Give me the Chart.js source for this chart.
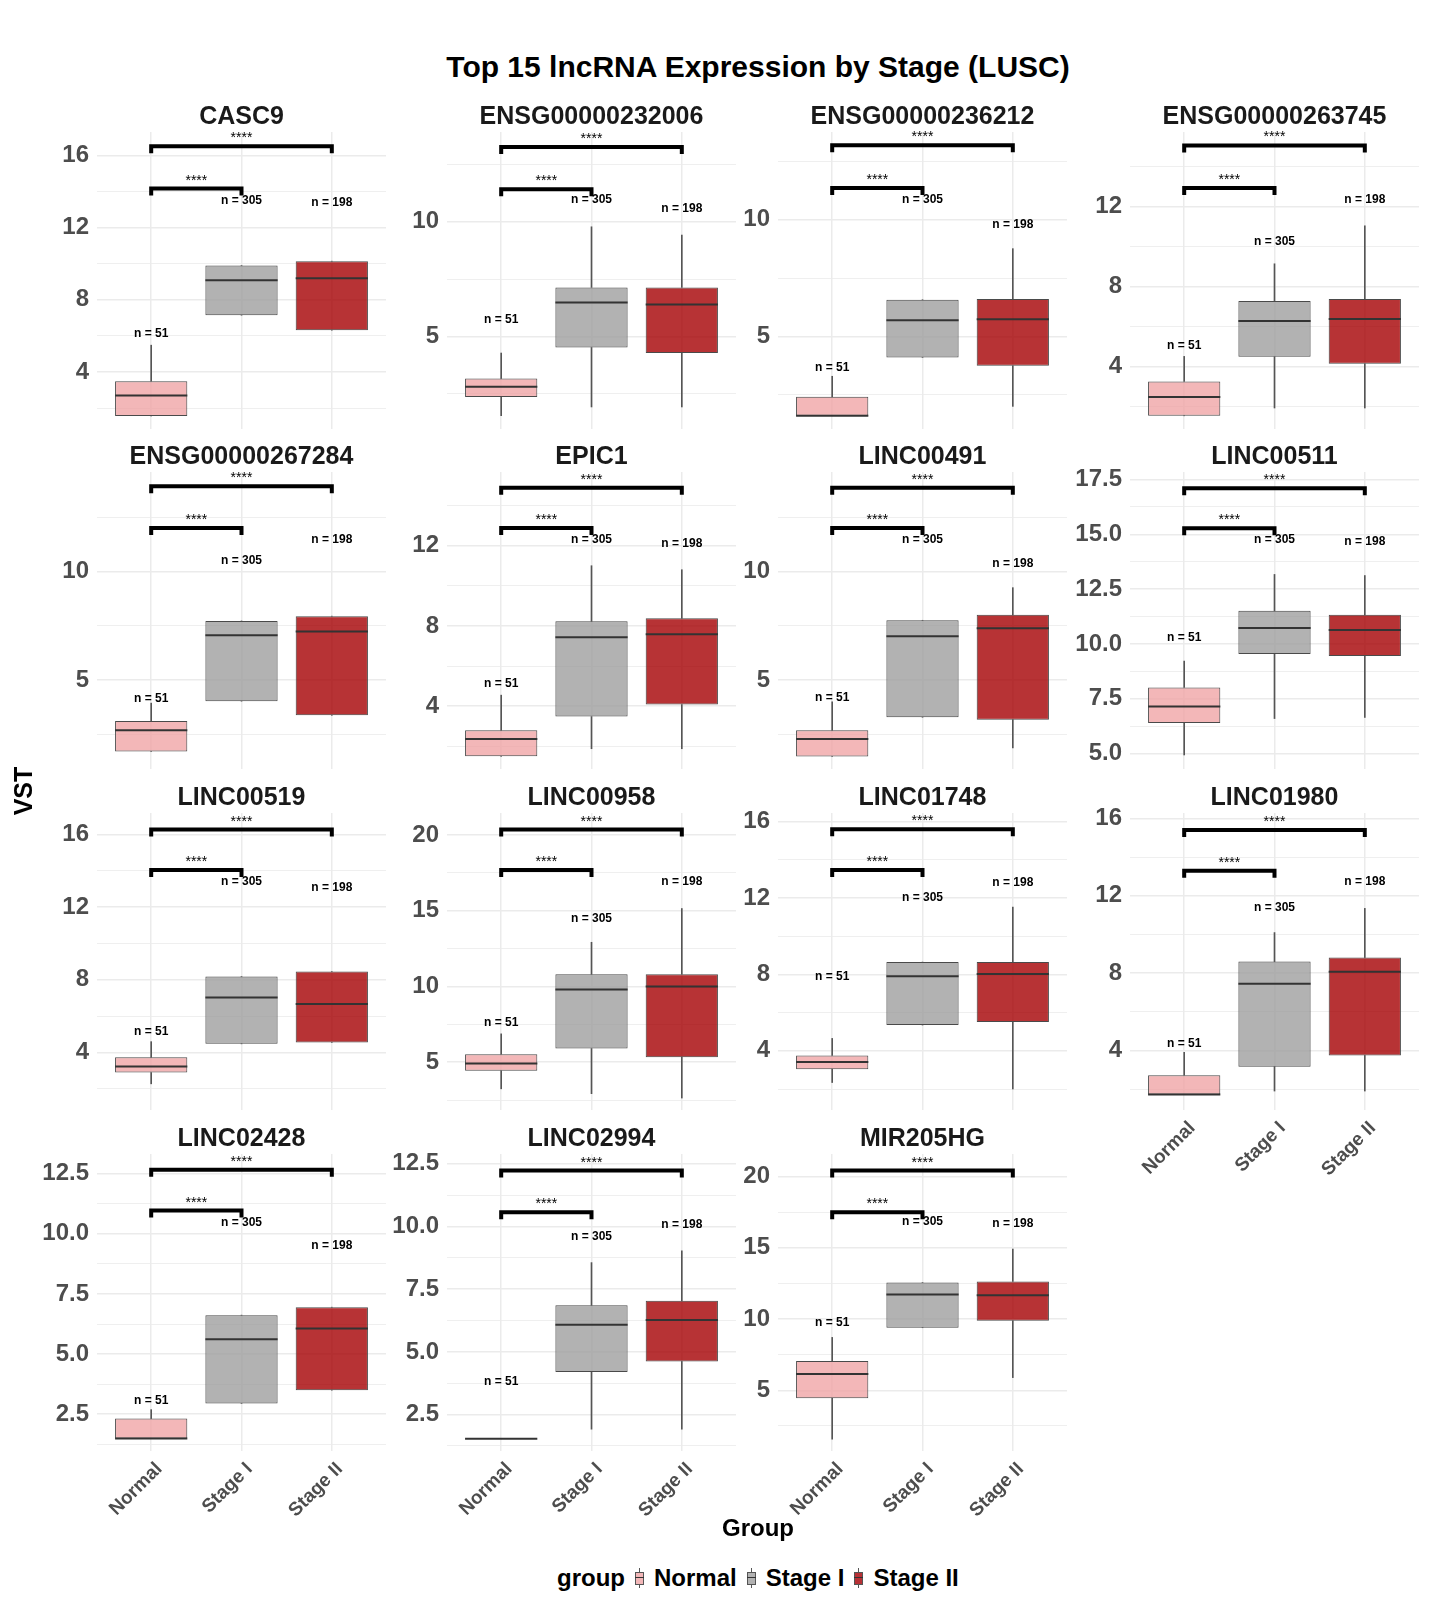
<!DOCTYPE html>
<html><head><meta charset="utf-8">
<script src="https://cdn.jsdelivr.net/npm/chart.js@4.4.1/dist/chart.umd.min.js"></script>
<style>
html,body{margin:0;padding:0;background:#fff;}
body{width:1431px;height:1609px;position:relative;overflow:hidden;font-family:'Liberation Sans',Arial,sans-serif;}
canvas{position:absolute;}
.txt{position:absolute;white-space:nowrap;font-weight:bold;color:#000;text-align:center;z-index:5;}
#legend{position:absolute;left:557px;top:1563px;height:30px;display:flex;align-items:center;gap:10px;font-weight:bold;font-size:24px;z-index:5;}
.key{position:relative;width:9px;height:20px;display:inline-block;}
.key .wh{position:absolute;left:4px;top:0;width:1px;height:20px;background:#555;}
.key .bx{position:absolute;left:0;top:4px;width:7px;height:11px;border:1px solid #555;}
.key .md{position:absolute;left:0;top:9px;width:9px;height:1px;background:#333;}
</style></head><body>
<div class="txt" style="left:258px;top:50px;width:1000px;font-size:30px;line-height:34px;">Top 15 lncRNA Expression by Stage (LUSC)</div>
<div class="txt" style="left:-27px;top:776px;width:100px;height:30px;font-size:25px;line-height:30px;transform:rotate(-90deg);">VST</div>
<div class="txt" style="left:658px;top:1513px;width:200px;font-size:24px;line-height:30px;">Group</div>
<div id="legend"><span>group</span>
<span class="key"><span class="wh"></span><span class="bx" style="background:rgb(243,183,184)"></span><span class="md"></span></span><span>Normal</span>
<span class="key"><span class="wh"></span><span class="bx" style="background:rgb(178,178,178)"></span><span class="md"></span></span><span>Stage I</span>
<span class="key"><span class="wh"></span><span class="bx" style="background:rgb(183,49,53)"></span><span class="md"></span></span><span>Stage II</span>
</div>
<script>
// ---------------- data ----------------
const genes = ['CASC9','ENSG00000232006','ENSG00000236212','ENSG00000263745','ENSG00000267284','EPIC1','LINC00491','LINC00511','LINC00519','LINC00958','LINC01748','LINC01980','LINC02428','LINC02994','MIR205HG'];
const groups = ['Normal','Stage I','Stage II'];
const nCounts = [51,305,198];
const q1 = [
[1.57,7.15,6.32],[2.36,4.52,4.28],[1.60,4.09,3.74],[1.53,4.48,4.13],[1.72,4.03,3.38],
[1.50,3.48,4.08],[1.49,3.29,3.18],[6.40,9.54,9.45],[2.90,4.48,4.55],[4.43,5.90,5.33],
[3.04,5.35,5.51],[1.73,3.17,3.75],[1.49,2.94,3.50],[1.54,4.20,4.62],[4.44,9.39,9.88]];
const median = [
[2.71,9.09,9.20],[2.81,6.48,6.39],[1.60,5.69,5.73],[2.47,6.27,6.37],[2.69,7.06,7.23],
[2.37,7.43,7.58],[2.29,7.02,7.38],[7.15,10.73,10.64],[3.23,7.03,6.67],[4.91,9.80,10.00],
[3.41,7.91,8.02],[1.73,7.45,8.07],[1.49,5.62,6.06],[1.54,6.08,6.27],[6.15,11.73,11.66]];
const q3 = [
[3.50,9.90,10.14],[3.17,7.14,7.14],[2.41,6.57,6.60],[3.25,7.27,7.37],[3.12,7.72,7.94],
[2.80,8.23,8.38],[2.69,7.75,8.00],[8.02,11.51,11.33],[3.74,8.18,8.46],[5.53,10.81,10.81],
[3.76,8.65,8.65],[2.73,8.60,8.81],[2.32,6.62,6.95],[1.54,6.86,7.04],[7.06,12.57,12.64]];
const whiskerLow = [
[1.57,7.15,6.32],[1.55,1.93,1.93],[1.60,4.09,2.00],[1.53,1.92,1.92],[1.72,4.03,3.38],
[1.50,1.88,1.88],[1.49,3.29,1.88],[4.94,6.60,6.65],[2.28,4.48,4.55],[3.24,2.92,2.63],
[2.34,5.35,2.00],[1.73,1.91,1.91],[1.49,2.94,3.50],[1.54,1.92,1.92],[1.57,9.39,5.89]];
const whiskerHigh = [
[5.49,9.90,10.14],[4.28,9.78,9.42],[3.29,6.57,8.76],[4.50,9.13,11.03],[3.94,7.72,7.94],
[4.55,11.00,10.80],[4.00,7.75,9.25],[9.22,13.17,13.12],[4.60,8.18,8.46],[6.87,12.92,15.15],
[4.65,8.65,11.53],[3.91,10.10,11.35],[2.69,6.62,6.95],[1.54,8.56,9.03],[8.71,12.57,14.91]];
const nLabelY = [
[6.14,13.50,13.40],[5.75,10.94,10.55],[3.67,10.86,9.80],[5.03,10.25,12.33],[4.15,10.51,11.46],
[5.12,12.30,12.08],[4.20,11.46,10.35],[10.30,14.74,14.65],[5.15,13.40,13.07],[7.62,14.46,16.92],
[7.86,12.00,12.79],[4.38,11.38,12.73],[3.05,10.48,9.51],[3.80,9.58,10.09],[9.72,16.80,16.66]];
const bracketStageI  = [14.16,11.42,11.36,12.92,12.00,12.88,12.00,15.27,14.04,17.69,13.48,13.29,10.97,10.57,17.50];
const bracketStageII = [16.50,13.26,13.19,15.05,13.92,14.88,13.85,17.10,16.27,20.37,15.61,15.40,12.66,12.23,20.42];
const sigStageI  = ['****','****','****','****','****','****','****','****','****','****','****','****','****','****','****'];
const sigStageII = ['****','****','****','****','****','****','****','****','****','****','****','****','****','****','****'];
const yMin = [0.85,0.97,1.03,0.87,0.91,0.87,0.91,4.30,0.84,1.84,0.90,0.93,0.97,1.05,0.74];
const yMax = [17.29,13.91,13.76,15.72,14.57,15.67,14.57,17.84,17.18,21.46,16.46,16.28,13.32,12.89,21.58];
const yTicks = [
[4,8,12,16],[5,10],[5,10],[4,8,12],[5,10],[4,8,12],[5,10],[5,7.5,10,12.5,15,17.5],
[4,8,12,16],[5,10,15,20],[4,8,12,16],[4,8,12,16],[2.5,5,7.5,10,12.5],[2.5,5,7.5,10,12.5],[5,10,15,20]];

// ---------------- style / layout ----------------
const FILL = ['rgba(240,165,166,0.8)','rgba(159,159,159,0.8)','rgba(165,0,3,0.8)'];
const COL_LEFT=[97,447,778,1130], ROW_TOP=[132,472,813,1154];
const PW=289, PH=297, AXW=80, RP=2, TB=30;
const labelPanels = [11,12,13,14];
Chart.defaults.font.family = "'Liberation Sans', Arial, sans-serif";

const annot = {
  id:'annot',
  afterDatasetsDraw(chart, args, opts){
    const p = opts.p; const {ctx} = chart; const x = chart.scales.x, y = chart.scales.y;
    ctx.save();
    const bracket = (a,b,val,lab)=>{
      const xa=x.getPixelForValue(a), xb=x.getPixelForValue(b), yy=y.getPixelForValue(val);
      ctx.strokeStyle='#000'; ctx.lineWidth=4; ctx.lineCap='butt'; ctx.lineJoin='miter';
      ctx.beginPath(); ctx.moveTo(xa,yy+7); ctx.lineTo(xa,yy); ctx.lineTo(xb,yy); ctx.lineTo(xb,yy+7); ctx.stroke();
      ctx.fillStyle='#000'; ctx.font="14px 'Liberation Sans', Arial"; ctx.textAlign='center'; ctx.textBaseline='alphabetic';
      ctx.fillText(lab,(xa+xb)/2,yy-4);
    };
    bracket(1,2,bracketStageI[p],sigStageI[p]);
    bracket(1,3,bracketStageII[p],sigStageII[p]);
    ctx.fillStyle='#000'; ctx.font="bold 12px 'Liberation Sans', Arial"; ctx.textAlign='center'; ctx.textBaseline='middle';
    for(let i=0;i<3;i++) ctx.fillText('n = '+nCounts[i], x.getPixelForValue(i+1), y.getPixelForValue(nLabelY[p][i]));
    ctx.restore();
  }
};

genes.forEach((gene,p)=>{
  const row=Math.floor(p/4), col=p%4;
  const showX = labelPanels.includes(p);
  const XH = showX?110:30;
  const cv=document.createElement('canvas');
  cv.width=AXW+PW+RP; cv.height=TB+PH+XH;
  cv.style.left=(COL_LEFT[col]-AXW)+'px'; cv.style.top=(ROW_TOP[row]-TB)+'px';
  document.body.appendChild(cv);
  const major=yTicks[p]; const step=major[1]-major[0];
  const all=[];
  for(let v=major[0]-step/2; v<=yMax[p]+1e-9; v+=step/2){ if(v>=yMin[p]) all.push(+v.toFixed(4)); }
  const isMajor=v=>major.some(m=>Math.abs(m-v)<1e-6);
  const dec=major.some(m=>Math.abs(m%1)>1e-9)?1:0;
  const xs=[1,2,3];
  new Chart(cv,{
    type:'bar',
    data:{datasets:[
      {type:'line', data:xs.map((x,i)=>({x,y:median[p][i]})), showLine:false, pointStyle:'line',
       pointRadius:(c)=>{const s=c.chart.scales.x; return s.getPixelForValue(1.4)-s.getPixelForValue(1);},
       pointHoverRadius:0, pointBorderColor:'#333', pointBorderWidth:2, pointBackgroundColor:'#333'},
      {type:'bar', data:xs.map((x,i)=>({x,y:[q1[p][i],q3[p][i]]})), backgroundColor:FILL, borderColor:'#4a4a4a',
       borderWidth:1, borderSkipped:false, barPercentage:0.8, categoryPercentage:1, grouped:false},
      {type:'bar', data:xs.map((x,i)=>({x,y:[whiskerLow[p][i],q1[p][i]]})), backgroundColor:'#555', borderWidth:0, barThickness:1, grouped:false},
      {type:'bar', data:xs.map((x,i)=>({x,y:[q3[p][i],whiskerHigh[p][i]]})), backgroundColor:'#555', borderWidth:0, barThickness:1, grouped:false}
    ]},
    options:{
      responsive:false, animation:false, events:[],
      layout:{padding:{left:0,right:RP,top:0,bottom:0}},
      plugins:{
        legend:{display:false}, tooltip:{enabled:false},
        title:{display:true, text:gene, fullSize:false, color:'#1a1a1a', font:{size:25,weight:'bold'}, padding:{top:0,bottom:0}},
        annot:{p}
      },
      scales:{
        x:{type:'linear', min:0.4, max:3.6, offset:false,
           afterBuildTicks:(s)=>{s.ticks=xs.map(v=>({value:v}));},
           afterFit:(s)=>{s.height=XH;},
           grid:{color:'#ebebeb', lineWidth:1.5, drawTicks:false, offset:false},
           border:{display:false},
           ticks:{display:showX, autoSkip:false, minRotation:45, maxRotation:45, padding:7, labelOffset:8, color:'#4d4d4d',
                  font:{size:19,weight:'bold'}, callback:(v)=>groups[Math.round(v)-1]}},
        y:{type:'linear', min:yMin[p], max:yMax[p],
           afterBuildTicks:(s)=>{s.ticks=all.map(v=>({value:v}));},
           afterFit:(s)=>{s.width=AXW;},
           grid:{color:'#ebebeb', lineWidth:(c)=> (c.tick && isMajor(c.tick.value))?1.5:0.8, drawTicks:false},
           border:{display:false},
           ticks:{autoSkip:false, padding:8, color:'#4d4d4d', font:{size:24,weight:'bold'},
                  callback:(v)=> isMajor(v)? Number(v).toFixed(dec) : ''}}
      }
    },
    plugins:[annot]
  });
});
</script>
</body></html>
